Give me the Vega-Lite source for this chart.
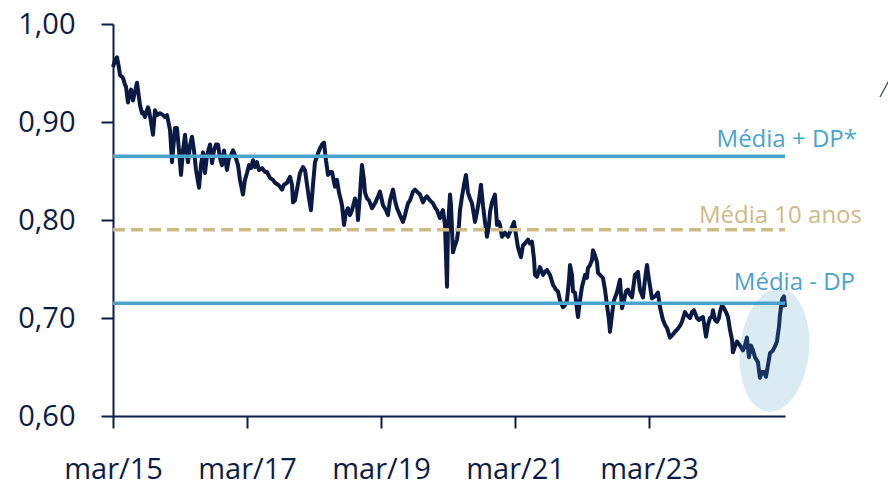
{
  "$schema": "https://vega.github.io/schema/vega-lite/v6.json",
  "autosize": "none",
  "width": 672,
  "height": 392,
  "padding": {"left": 113, "top": 24, "right": 103, "bottom": 67},
  "background": "white",
  "config": {
    "view": {"stroke": null},
    "axis": {
      "domainColor": "#0c1c47", "domainWidth": 2, "tickColor": "#0c1c47", "tickWidth": 2, "tickSize": 12,
      "labelFont": "Open Sans", "labelFontSize": 29, "labelColor": "#0c1c47", "grid": false, "title": null
    }
  },
  "datasets": {
    "series": [
      {"t":2015.167,"v":0.956},{"t":2015.197,"v":0.963},{"t":2015.227,"v":0.966},{"t":2015.257,"v":0.955},{"t":2015.271,"v":0.948},{"t":2015.301,"v":0.946},{"t":2015.316,"v":0.945},{"t":2015.346,"v":0.938},{"t":2015.361,"v":0.936},{"t":2015.391,"v":0.920},{"t":2015.406,"v":0.927},{"t":2015.436,"v":0.933},{"t":2015.451,"v":0.926},{"t":2015.466,"v":0.922},{"t":2015.495,"v":0.931},{"t":2015.525,"v":0.940},{"t":2015.555,"v":0.925},{"t":2015.570,"v":0.917},{"t":2015.600,"v":0.909},{"t":2015.615,"v":0.910},{"t":2015.645,"v":0.905},{"t":2015.660,"v":0.909},{"t":2015.689,"v":0.915},{"t":2015.704,"v":0.912},{"t":2015.734,"v":0.900},{"t":2015.764,"v":0.887},{"t":2015.794,"v":0.912},{"t":2015.824,"v":0.907},{"t":2015.868,"v":0.909},{"t":2015.913,"v":0.907},{"t":2015.943,"v":0.905},{"t":2015.973,"v":0.907},{"t":2016.003,"v":0.897},{"t":2016.018,"v":0.892},{"t":2016.048,"v":0.859},{"t":2016.077,"v":0.882},{"t":2016.092,"v":0.894},{"t":2016.122,"v":0.894},{"t":2016.152,"v":0.871},{"t":2016.182,"v":0.846},{"t":2016.212,"v":0.871},{"t":2016.242,"v":0.887},{"t":2016.271,"v":0.866},{"t":2016.286,"v":0.859},{"t":2016.316,"v":0.876},{"t":2016.346,"v":0.885},{"t":2016.376,"v":0.871},{"t":2016.406,"v":0.851},{"t":2016.451,"v":0.833},{"t":2016.480,"v":0.856},{"t":2016.510,"v":0.869},{"t":2016.540,"v":0.848},
      {"t":2016.570,"v":0.866},{"t":2016.615,"v":0.877},{"t":2016.645,"v":0.858},{"t":2016.674,"v":0.871},{"t":2016.704,"v":0.877},{"t":2016.734,"v":0.877},{"t":2016.764,"v":0.863},{"t":2016.794,"v":0.856},{"t":2016.824,"v":0.871},{"t":2016.868,"v":0.851},{"t":2016.898,"v":0.863},{"t":2016.928,"v":0.866},{"t":2016.958,"v":0.871},{"t":2016.988,"v":0.866},{"t":2017.033,"v":0.856},{"t":2017.062,"v":0.841},{"t":2017.107,"v":0.826},{"t":2017.137,"v":0.841},{"t":2017.167,"v":0.848},{"t":2017.197,"v":0.856},{"t":2017.227,"v":0.853},{"t":2017.257,"v":0.861},{"t":2017.286,"v":0.854},{"t":2017.316,"v":0.859},{"t":2017.346,"v":0.851},{"t":2017.391,"v":0.853},{"t":2017.436,"v":0.849},{"t":2017.465,"v":0.849},{"t":2017.510,"v":0.843},{"t":2017.555,"v":0.841},{"t":2017.585,"v":0.838},{"t":2017.630,"v":0.836},{"t":2017.659,"v":0.834},{"t":2017.689,"v":0.831},{"t":2017.719,"v":0.836},{"t":2017.764,"v":0.838},{"t":2017.809,"v":0.844},{"t":2017.839,"v":0.836},{"t":2017.854,"v":0.818},{"t":2017.883,"v":0.820},{"t":2017.913,"v":0.831},{"t":2017.958,"v":0.848},{"t":2018.003,"v":0.854},
      {"t":2018.033,"v":0.851},{"t":2018.063,"v":0.836},{"t":2018.092,"v":0.822},{"t":2018.122,"v":0.810},{"t":2018.152,"v":0.836},{"t":2018.182,"v":0.859},{"t":2018.227,"v":0.868},{"t":2018.256,"v":0.873},{"t":2018.286,"v":0.877},{"t":2018.316,"v":0.879},{"t":2018.346,"v":0.861},{"t":2018.376,"v":0.846},{"t":2018.406,"v":0.849},{"t":2018.436,"v":0.849},{"t":2018.465,"v":0.839},{"t":2018.480,"v":0.834},{"t":2018.510,"v":0.841},{"t":2018.540,"v":0.828},{"t":2018.570,"v":0.820},{"t":2018.585,"v":0.815},{"t":2018.615,"v":0.795},{"t":2018.644,"v":0.808},{"t":2018.674,"v":0.812},{"t":2018.704,"v":0.805},{"t":2018.734,"v":0.810},{"t":2018.779,"v":0.822},{"t":2018.809,"v":0.815},{"t":2018.824,"v":0.800},{"t":2018.853,"v":0.826},{"t":2018.883,"v":0.856},{"t":2018.913,"v":0.841},{"t":2018.928,"v":0.828},{"t":2018.958,"v":0.822},{"t":2018.988,"v":0.820},{"t":2019.033,"v":0.812},{"t":2019.077,"v":0.817},{"t":2019.122,"v":0.824},{"t":2019.152,"v":0.829},{"t":2019.197,"v":0.815},{"t":2019.241,"v":0.810},{"t":2019.271,"v":0.805},{"t":2019.301,"v":0.820},{"t":2019.346,"v":0.831},{"t":2019.376,"v":0.820},{"t":2019.406,"v":0.812},{"t":2019.450,"v":0.805},
      {"t":2019.495,"v":0.798},{"t":2019.525,"v":0.805},{"t":2019.570,"v":0.817},{"t":2019.600,"v":0.820},{"t":2019.645,"v":0.829},{"t":2019.674,"v":0.831},{"t":2019.719,"v":0.828},{"t":2019.749,"v":0.826},{"t":2019.794,"v":0.818},{"t":2019.824,"v":0.822},{"t":2019.853,"v":0.824},{"t":2019.898,"v":0.820},{"t":2019.943,"v":0.817},{"t":2019.973,"v":0.813},{"t":2020.003,"v":0.810},{"t":2020.047,"v":0.802},{"t":2020.077,"v":0.808},{"t":2020.092,"v":0.810},{"t":2020.122,"v":0.795},{"t":2020.152,"v":0.732},{"t":2020.167,"v":0.793},{"t":2020.197,"v":0.826},{"t":2020.212,"v":0.815},{"t":2020.241,"v":0.767},{"t":2020.271,"v":0.774},{"t":2020.301,"v":0.780},{"t":2020.331,"v":0.795},{"t":2020.346,"v":0.810},{"t":2020.376,"v":0.824},{"t":2020.406,"v":0.836},{"t":2020.435,"v":0.846},{"t":2020.465,"v":0.828},{"t":2020.495,"v":0.822},{"t":2020.525,"v":0.817},{"t":2020.555,"v":0.805},{"t":2020.570,"v":0.798},{"t":2020.600,"v":0.808},{"t":2020.629,"v":0.820},{"t":2020.659,"v":0.836},{"t":2020.689,"v":0.815},{"t":2020.719,"v":0.798},{"t":2020.749,"v":0.783},{"t":2020.779,"v":0.795},{"t":2020.794,"v":0.808},{"t":2020.823,"v":0.818},{"t":2020.868,"v":0.826},
      {"t":2020.898,"v":0.795},{"t":2020.928,"v":0.798},{"t":2020.943,"v":0.795},{"t":2020.973,"v":0.783},{"t":2021.018,"v":0.787},{"t":2021.062,"v":0.783},{"t":2021.107,"v":0.790},{"t":2021.152,"v":0.798},{"t":2021.182,"v":0.785},{"t":2021.212,"v":0.772},{"t":2021.256,"v":0.762},{"t":2021.286,"v":0.774},{"t":2021.316,"v":0.776},{"t":2021.361,"v":0.780},{"t":2021.391,"v":0.776},{"t":2021.420,"v":0.778},{"t":2021.450,"v":0.761},{"t":2021.465,"v":0.744},{"t":2021.495,"v":0.742},{"t":2021.540,"v":0.752},{"t":2021.585,"v":0.744},{"t":2021.615,"v":0.747},{"t":2021.644,"v":0.749},{"t":2021.689,"v":0.744},{"t":2021.734,"v":0.734},{"t":2021.779,"v":0.729},{"t":2021.809,"v":0.727},{"t":2021.838,"v":0.718},{"t":2021.883,"v":0.711},{"t":2021.913,"v":0.713},{"t":2021.943,"v":0.718},{"t":2021.973,"v":0.739},{"t":2021.988,"v":0.754},{"t":2022.018,"v":0.744},{"t":2022.033,"v":0.727},{"t":2022.062,"v":0.726},{"t":2022.107,"v":0.701},{"t":2022.137,"v":0.718},{"t":2022.167,"v":0.732},{"t":2022.212,"v":0.744},{"t":2022.241,"v":0.741},{"t":2022.256,"v":0.751},
      {"t":2022.286,"v":0.754},{"t":2022.316,"v":0.759},{"t":2022.331,"v":0.769},{"t":2022.361,"v":0.764},{"t":2022.391,"v":0.757},{"t":2022.406,"v":0.746},{"t":2022.435,"v":0.744},{"t":2022.480,"v":0.741},{"t":2022.510,"v":0.729},{"t":2022.540,"v":0.713},{"t":2022.570,"v":0.698},{"t":2022.585,"v":0.686},{"t":2022.614,"v":0.703},{"t":2022.644,"v":0.718},{"t":2022.689,"v":0.726},{"t":2022.734,"v":0.739},{"t":2022.764,"v":0.710},{"t":2022.794,"v":0.718},{"t":2022.823,"v":0.727},{"t":2022.853,"v":0.729},{"t":2022.883,"v":0.724},{"t":2022.913,"v":0.721},{"t":2022.958,"v":0.744},{"t":2023.003,"v":0.747},{"t":2023.032,"v":0.729},{"t":2023.077,"v":0.721},{"t":2023.107,"v":0.739},{"t":2023.137,"v":0.754},{"t":2023.167,"v":0.739},{"t":2023.211,"v":0.720},{"t":2023.256,"v":0.722},{"t":2023.301,"v":0.726},{"t":2023.331,"v":0.711},{"t":2023.376,"v":0.698},{"t":2023.406,"v":0.693},{"t":2023.435,"v":0.690},{"t":2023.480,"v":0.680},{"t":2023.510,"v":0.682},{"t":2023.555,"v":0.686},{"t":2023.585,"v":0.688},{"t":2023.629,"v":0.692},{"t":2023.659,"v":0.696},{"t":2023.704,"v":0.706},
      {"t":2023.734,"v":0.703},{"t":2023.779,"v":0.700},{"t":2023.809,"v":0.706},{"t":2023.838,"v":0.708},{"t":2023.883,"v":0.700},{"t":2023.913,"v":0.698},{"t":2023.943,"v":0.700},{"t":2023.973,"v":0.701},{"t":2024.003,"v":0.688},{"t":2024.018,"v":0.681},{"t":2024.047,"v":0.693},{"t":2024.077,"v":0.700},{"t":2024.107,"v":0.701},{"t":2024.122,"v":0.708},{"t":2024.152,"v":0.698},{"t":2024.182,"v":0.696},{"t":2024.211,"v":0.700},{"t":2024.226,"v":0.706},{"t":2024.256,"v":0.713},{"t":2024.286,"v":0.710},{"t":2024.316,"v":0.706},{"t":2024.346,"v":0.701},{"t":2024.376,"v":0.688},{"t":2024.406,"v":0.678},{"t":2024.420,"v":0.665},{"t":2024.450,"v":0.671},{"t":2024.480,"v":0.676},{"t":2024.525,"v":0.672},{"t":2024.570,"v":0.667},{"t":2024.599,"v":0.672},{"t":2024.629,"v":0.680},{"t":2024.659,"v":0.660},{"t":2024.689,"v":0.672},{"t":2024.719,"v":0.667},{"t":2024.749,"v":0.660},{"t":2024.793,"v":0.655},{"t":2024.823,"v":0.639},{"t":2024.853,"v":0.645},{"t":2024.883,"v":0.645},{"t":2024.913,"v":0.640},{"t":2024.943,"v":0.652},{"t":2024.973,"v":0.664},{"t":2025.017,"v":0.667},{"t":2025.047,"v":0.671},{"t":2025.077,"v":0.676},{"t":2025.107,"v":0.691},{"t":2025.122,"v":0.703},{"t":2025.137,"v":0.711},{"t":2025.152,"v":0.719},{"t":2025.182,"v":0.722},{"t":2025.197,"v":0.711}
    ],
    "refs": [
      {"name": "Média + DP*", "t0": 2015.167, "t1": 2025.197, "v": 0.865, "lt": 2026.271, "lv": 0.8745},
      {"name": "Média 10 anos", "t0": 2015.167, "t1": 2025.197, "v": 0.790, "lt": 2026.346, "lv": 0.797},
      {"name": "Média - DP", "t0": 2015.167, "t1": 2025.197, "v": 0.715, "lt": 2026.242, "lv": 0.7286}
    ],
    "hl": [{"t": 2025.040, "v": 0.6673}],
    "corner": [{"t0": 2026.615, "t1": 2026.77, "v0": 0.9255, "v1": 0.9449}]
  },
  "layer": [
    {
      "data": {"name": "series"},
      "mark": {"type": "line", "color": "#0a1a45", "strokeWidth": 4, "strokeJoin": "round", "interpolate": "linear"},
      "encoding": {
        "x": {"field": "t", "type": "quantitative",
          "scale": {"domain": [2015.167, 2025.197], "nice": false, "zero": false},
          "axis": {"values": [2015.167, 2017.167, 2019.167, 2021.167, 2023.167],
            "labelExpr": "'mar/' + format(floor(datum.value) % 100, '02d')",
            "labelPadding": 27, "labelFlush": false, "labelOverlap": false}},
        "y": {"field": "v", "type": "quantitative",
          "scale": {"domain": [0.6, 1.0], "nice": false, "zero": false},
          "axis": {"values": [0.6, 0.7, 0.8, 0.9, 1.0],
            "labelExpr": "replace(format(datum.value, '.2f'), '.', ',')",
            "labelPadding": 26}}
      }
    },
    {
      "data": {"name": "refs"},
      "mark": {"type": "rule", "strokeWidth": 3.5},
      "encoding": {
        "x": {"field": "t0", "type": "quantitative"},
        "x2": {"field": "t1"},
        "y": {"field": "v", "type": "quantitative"},
        "color": {"field": "name", "type": "nominal",
          "scale": {"domain": ["Média + DP*", "Média 10 anos", "Média - DP"], "range": ["#4aa3cc", "#cdbb85", "#4aa3cc"]},
          "legend": null},
        "strokeDash": {"field": "name", "type": "nominal",
          "scale": {"domain": ["Média + DP*", "Média 10 anos", "Média - DP"], "range": [[1, 0], [12, 6], [1, 0]]},
          "legend": null}
      }
    },
    {
      "data": {"name": "refs"},
      "mark": {"type": "text", "align": "right", "baseline": "alphabetic", "font": "Open Sans", "fontSize": 24},
      "encoding": {
        "x": {"field": "lt", "type": "quantitative"},
        "y": {"field": "lv", "type": "quantitative"},
        "text": {"field": "name"},
        "color": {"field": "name", "type": "nominal",
          "scale": {"domain": ["Média + DP*", "Média 10 anos", "Média - DP"], "range": ["#4aa3cc", "#cdbb85", "#4aa3cc"]},
          "legend": null}
      }
    },
    {
      "data": {"name": "hl"},
      "mark": {"type": "point", "filled": true, "color": "#4a9cc8", "opacity": 0.2, "strokeWidth": 0,
        "shape": "M -0.556 0 A 0.556 1 0 1 0 0.556 0 A 0.556 1 0 1 0 -0.556 0 Z", "size": 15376, "angle": 6},
      "encoding": {
        "x": {"field": "t", "type": "quantitative"},
        "y": {"field": "v", "type": "quantitative"}
      }
    },
    {
      "data": {"name": "corner"},
      "mark": {"type": "rule", "color": "#3a3f55", "strokeWidth": 1.2},
      "encoding": {
        "x": {"field": "t0", "type": "quantitative"},
        "x2": {"field": "t1"},
        "y": {"field": "v0", "type": "quantitative"},
        "y2": {"field": "v1"}
      }
    }
  ]
}
